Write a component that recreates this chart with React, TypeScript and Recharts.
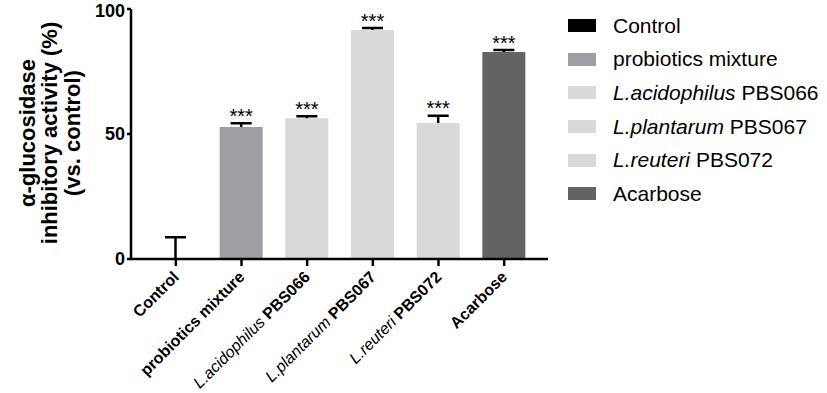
import React from 'react';
import { BarChart, Bar, XAxis, YAxis, Cell, LabelList } from 'recharts';

const FONT = '"Liberation Sans", Arial, Helvetica, sans-serif';

const categories = ['Control', 'probiotics mixture', 'L.acidophilus PBS066', 'L.plantarum PBS067', 'L.reuteri PBS072', 'Acarbose'];
const italicParts = ['', '', 'L.acidophilus', 'L.plantarum', 'L.reuteri', ''];
const plainParts = ['Control', 'probiotics mixture', 'PBS066', 'PBS067', 'PBS072', 'Acarbose'];
const meanValues = [0, 52.8, 56.3, 91.6, 54.4, 82.8];
const errorValues = [8.7, 1.5, 0.8, 0.8, 2.9, 0.8];
const significance = ['', '***', '***', '***', '***', '***'];
const barColors = ['#000000', '#9f9fa3', '#d9d9d9', '#d9d9d9', '#d9d9d9', '#636363'];
const yTicks = [0, 50, 100];
const yLabelLines = ['α-glucosidase', 'inhibitory activity (%)', '(vs. control)'];

const ErrorShape = (props: any) => {
  const { x, y, width, height } = props;
  if (x == null || y == null) return null;
  const cx = x + width / 2;
  return (
    <g>
      <line x1={cx} y1={y + height} x2={cx} y2={y} stroke="#000" strokeWidth={2.5} />
      <line x1={cx - 10.5} x2={cx + 10.5} y1={y} y2={y} stroke="#000" strokeWidth={2.5} />
    </g>
  );
};

const StarLabel = (props: any) => {
  const { x, y, width, value } = props;
  if (!value) return null;
  return (
    <text x={x + width / 2} y={y - 0.5} textAnchor="middle" fontSize={20} fontFamily={FONT} fill="#000">
      {value}
    </text>
  );
};

const XTick = (props: any) => {
  const { x, y, payload } = props;
  const i = payload.index;
  return (
    <g transform={`translate(${x + 4},${y + 10})`}>
      <text transform="rotate(-45)" textAnchor="end" x={0} y={0} fontSize={16} fontFamily={FONT} fill="#000">
        {italicParts[i] ? (
          <tspan fontStyle="italic" fontWeight="normal">{italicParts[i] + ' '}</tspan>
        ) : null}
        <tspan fontWeight="bold">{plainParts[i]}</tspan>
      </text>
    </g>
  );
};

const YLabel = () => {
  const xs = [27, 49.5, 72];
  const cy = 133;
  return (
    <g>
      {yLabelLines.map((t, k) => (
        <text
          key={k}
          x={xs[k]}
          y={cy}
          dy="0.36em"
          transform={`rotate(-90, ${xs[k]}, ${cy})`}
          textAnchor="middle"
          fontSize={22}
          fontWeight="bold"
          fontFamily={FONT}
          fill="#000"
        >
          {t}
        </text>
      ))}
    </g>
  );
};

export default function App() {
  const data = categories.map((name, i) => ({
    name,
    value: meanValues[i],
    err: errorValues[i],
    sig: significance[i],
  }));
  return (
    <div style={{ position: 'absolute', left: 0, top: 0, width: 827, height: 393, background: '#fff', fontFamily: FONT }}>
      <BarChart width={827} height={393} data={data} margin={{ top: 9, right: 279, bottom: 14, left: 91 }}>
        <XAxis
          dataKey="name"
          height={120}
          interval={0}
          padding={{ left: 12, right: 11 }}
          tick={<XTick />}
          tickSize={7}
          axisLine={{ stroke: '#000', strokeWidth: 2.5 }}
          tickLine={{ stroke: '#000', strokeWidth: 2.5 }}
        />
        <YAxis
          width={40}
          domain={[0, 100]}
          ticks={yTicks}
          tickSize={4}
          tickMargin={2}
          axisLine={{ stroke: '#000', strokeWidth: 2.5 }}
          tickLine={{ stroke: '#000', strokeWidth: 2.5 }}
          tick={{ fontSize: 18, fontWeight: 'bold', fill: '#000', fontFamily: FONT }}
          label={{ content: () => <YLabel /> }}
        />
        <Bar dataKey="value" stackId="s" barSize={43} isAnimationActive={false}>
          {data.map((d, i) => (
            <Cell key={i} fill={barColors[i]} />
          ))}
        </Bar>
        <Bar dataKey="err" stackId="s" barSize={43} isAnimationActive={false} shape={<ErrorShape />}>
          <LabelList dataKey="sig" content={<StarLabel />} />
        </Bar>
      </BarChart>
      <div style={{ position: 'absolute', left: 568, top: 9 }}>
        {categories.map((c, i) => (
          <div key={i} style={{ display: 'flex', alignItems: 'center', height: 33.6, fontSize: 21, color: '#000', whiteSpace: 'nowrap' }}>
            <div style={{ width: 28, height: 13, background: barColors[i], marginRight: 17 }} />
            <span>
              {italicParts[i] ? <i>{italicParts[i]}</i> : null}
              {italicParts[i] ? ' ' : ''}
              {plainParts[i]}
            </span>
          </div>
        ))}
      </div>
    </div>
  );
}
